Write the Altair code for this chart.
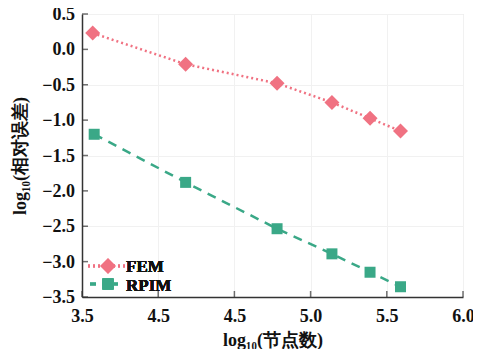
import altair as alt
import pandas as pd

# data
x_fem = [3.57, 4.18, 4.78, 5.14, 5.39, 5.59]
y_fem = [0.23, -0.21, -0.48, -0.75, -0.975, -1.155]
x_rpim = [3.58, 4.18, 4.78, 5.14, 5.39, 5.59]
y_rpim = [-1.20, -1.88, -2.535, -2.89, -3.15, -3.355]

x_ticks = [3.5, 4.0, 4.5, 5.0, 5.5, 6.0]
x_tick_labels = ["3.5", "4.5", "4.5", "5.0", "5.5", "6.0"]
y_ticks = [-3.5, -3.0, -2.5, -2.0, -1.5, -1.0, -0.5, 0.0, 0.5]

FEM_C = "#f07282"
RPIM_C = "#3aa887"
FONT = "Liberation Serif"

fem = pd.DataFrame({"x": x_fem, "y": y_fem})
rpim = pd.DataFrame({"x": x_rpim, "y": y_rpim})
xt = pd.DataFrame({"x": x_ticks})
yt = pd.DataFrame({"y": y_ticks})

label_expr = "[" + ",".join(f"'{s}'" for s in x_tick_labels) + "][indexof([" + \
    ",".join(str(v) for v in x_ticks) + "], datum.value)]"

xscale = alt.Scale(domain=[3.5, 6.0], nice=False, zero=False)
yscale = alt.Scale(domain=[-3.5, 0.5], nice=False, zero=False)

X = alt.X("x:Q", scale=xscale, axis=alt.Axis(
    values=x_ticks, labelExpr=label_expr, ticks=False, title="log₁₀(节点数)",
    labelFont=FONT, labelFontWeight="bold", labelFontSize=18, labelColor="#111",
    labelPadding=10, labelOverlap=False, titleFont=FONT, titleFontWeight="bold",
    titleFontSize=18, titleColor="#111", titlePadding=6, domainColor="#333",
    domainWidth=1.5, grid=True, gridColor="#f1f1f1", labelFlush=False))
Y = alt.Y("y:Q", scale=yscale, axis=alt.Axis(
    values=y_ticks, ticks=False, labels=False, title="log₁₀(相对误差)",
    titleFont=FONT, titleFontWeight="bold", titleFontSize=18, titleColor="#111",
    titleX=-62, titleBaseline="middle", domainColor="#333", domainWidth=1.5,
    grid=True, gridColor="#f1f1f1"))

fem_line = alt.Chart(fem).mark_line(color=FEM_C, strokeWidth=2.5, strokeDash=[2, 3]).encode(x=X, y=Y)
fem_pts = alt.Chart(fem).mark_point(shape="diamond", filled=True, size=225, color=FEM_C, opacity=1).encode(x=X, y=Y)
rpim_line = alt.Chart(rpim).mark_line(color=RPIM_C, strokeWidth=2.5, strokeDash=[9, 7]).encode(x=X, y=Y)
rpim_pts = alt.Chart(rpim).mark_point(shape="square", filled=True, size=121, color=RPIM_C, opacity=1).encode(x=X, y=Y)

# inward ticks
xticks = alt.Chart(xt).mark_tick(orient="vertical", size=6, thickness=1.5, color="#333", yOffset=-3).encode(
    x=X, y=alt.datum(-3.5))
yticks = alt.Chart(yt).mark_tick(orient="horizontal", size=6, thickness=1.5, color="#333", xOffset=3).encode(
    y=Y, x=alt.datum(3.5))
# y tick labels, drawn from the tick values through the y scale
ylabels = alt.Chart(yt).transform_calculate(
    lab="format(datum.y, '.1f')"
).mark_text(align="right", baseline="middle", font=FONT, fontWeight="bold",
            fontSize=18, color="#111", dx=-7, dy=1).encode(
    y=Y, x=alt.datum(3.5), text="lab:N")

# legend
leg_fem_line = alt.Chart(fem).mark_rule(color=FEM_C, strokeWidth=2.5, strokeDash=[2, 3]).encode(
    x=alt.value(6), x2=alt.value(43), y=alt.value(252))
leg_fem_pt = alt.Chart(fem).mark_point(shape="diamond", filled=True, size=225, color=FEM_C, opacity=1).encode(
    x=alt.value(26), y=alt.value(252))
leg_fem_txt = alt.Chart(fem).mark_text(align="left", baseline="middle", font=FONT, fontWeight="bold",
                                       fontSize=17, color="#111").encode(
    x=alt.value(44), y=alt.value(253), text=alt.value("FEM"))
leg_rpim_line = alt.Chart(rpim).mark_rule(color=RPIM_C, strokeWidth=2.5, strokeDash=[6, 6]).encode(
    x=alt.value(8), x2=alt.value(36), y=alt.value(270))
leg_rpim_pt = alt.Chart(rpim).mark_point(shape="square", filled=True, size=121, color=RPIM_C, opacity=1).encode(
    x=alt.value(26), y=alt.value(270))
leg_rpim_txt = alt.Chart(rpim).mark_text(align="left", baseline="middle", font=FONT, fontWeight="bold",
                                        fontSize=17, color="#111").encode(
    x=alt.value(44), y=alt.value(272), text=alt.value("RPIM"))

chart = alt.layer(
    fem_line, rpim_line, fem_pts, rpim_pts, xticks, yticks, ylabels,
    leg_fem_line, leg_fem_pt, leg_fem_txt, leg_rpim_line, leg_rpim_pt, leg_rpim_txt
).properties(
    width=381, height=283,
    autosize=alt.AutoSizeParams(type="none"),
    padding={"left": 74, "top": 6, "right": 10, "bottom": 52},
).configure_view(stroke=None, clip=False).configure(background="white")

chart.save("out.html", embed_options={"renderer": "svg", "actions": False})
